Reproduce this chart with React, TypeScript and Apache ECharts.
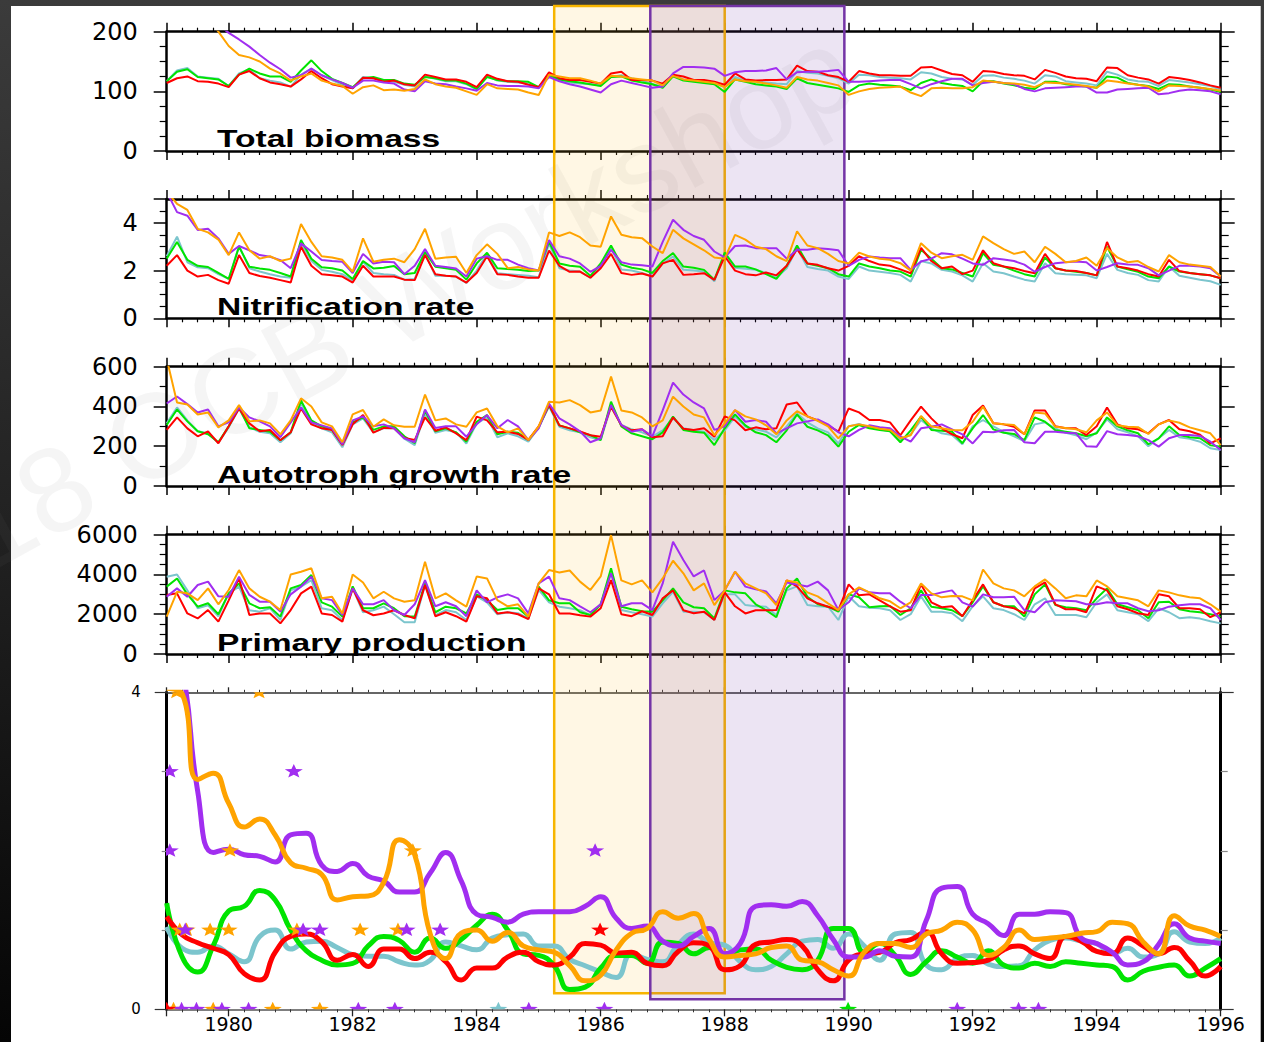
import { useEffect, useRef } from "react";
import * as echarts from "echarts";

// ---------- time bases ----------
const YEAR_START = 1979;
const YEAR_END = 1996;
// bimonthly model output, 1979.0 .. 1996.0
const panelTimes = Array.from({ length: 103 }, (_, k) => YEAR_START + k / 6);
// quarterly smoothed indices, 1979.0 .. 1996.0
const indexTimes = Array.from({ length: 69 }, (_, k) => YEAR_START + k / 4);

// ---------- Total biomass ----------
const biomassRed = [114,122,125,117,116,113,107,128,134,122,115,112,108,120,134,122,112,108,105,123,122,116,118,112,110,128,124,120,
  120,116,107,128,121,117,116,111,107,132,122,119,119,116,113,130,133,119,119,118,113,128,125,119,119,116,111,130,120,118,119,119,120,143,134,133,127,124,116,134,130,127,127,126,
  126,140,141,135,129,127,116,134,133,129,127,126,120,136,131,125,122,121,117,140,139,127,123,120,113,124,122,119,115,110,106];
const biomassGreen = [117,133,137,124,122,120,109,128,138,130,125,125,116,135,152,134,121,114,107,122,124,119,119,113,111,124,122,118,
  118,113,104,124,119,117,117,116,107,127,120,117,115,112,109,124,125,118,115,112,106,125,118,116,114,112,99,120,116,112,110,108,104,122,114,111,108,105,99,110,113,111,110,108,
  102,114,120,114,111,109,100,117,117,113,110,106,104,116,116,112,110,108,106,125,123,114,111,109,104,112,111,108,106,103,99];
const biomassCyan = [117,135,139,125,123,121,109,130,137,122,118,115,108,128,138,127,119,111,105,124,122,117,116,111,108,125,121,117,
  117,112,103,126,118,116,115,113,107,128,118,115,113,112,110,124,127,122,118,112,108,127,120,117,116,114,107,124,118,116,115,113,112,134,131,130,126,122,113,128,127,124,123,122,
  120,132,130,124,121,120,111,126,127,123,121,118,113,127,125,117,115,113,110,133,128,120,117,116,109,119,117,115,112,109,103];
const biomassPurple = [300,280,260,240,225,212,198,187,175,161,148,137,123,127,138,127,120,114,106,118,118,115,113,103,100,117,113,112,
  108,105,101,114,110,109,109,108,105,124,117,112,108,103,98,112,118,114,110,106,108,130,141,141,140,138,126,132,134,134,135,139,120,132,133,133,134,136,116,116,117,118,119,119,
  112,105,112,117,121,121,110,114,116,114,112,104,100,105,106,107,108,108,98,98,103,104,105,106,95,97,101,103,102,100,95];
const biomassOrange = [320,290,265,245,222,200,176,161,157,150,138,130,118,125,130,118,113,109,96,107,110,102,103,101,104,120,112,108,
  106,100,94,112,105,104,103,98,94,128,125,122,122,118,113,126,125,122,120,118,110,126,120,118,116,114,107,120,117,116,113,110,106,124,120,118,114,110,94,100,104,106,107,108,
  98,92,105,106,105,105,107,118,116,114,113,111,107,115,114,113,111,109,106,118,116,113,111,108,100,110,109,108,106,104,101];

// ---------- Nitrification rate ----------
const nitrifRed = [2.2,2.65,2.0,1.75,1.82,1.6,1.45,2.65,1.9,1.77,1.7,1.6,1.5,3.0,2.2,1.85,1.8,1.75,1.5,2.2,1.75,1.75,1.75,1.62,1.6,2.65,1.85,1.78,1.75,1.5,1.9,2.6,1.85,1.82,1.75,1.7,1.7,2.84,2.2,1.95,1.96,
  1.7,2.1,2.7,1.9,1.82,1.88,1.75,2.3,2.45,1.82,1.85,1.89,1.61,2.6,2.0,1.85,1.8,1.92,1.8,2.2,2.9,2.3,2.24,2.1,2.0,2.2,2.6,2.4,2.25,2.2,2.05,
  1.89,2.95,2.4,2.1,2.17,1.85,2.0,2.85,2.31,2.17,2.1,1.98,1.89,2.7,2.1,2.0,1.98,1.9,1.8,3.2,2.17,2.1,2.0,1.85,1.75,2.45,1.98,1.9,1.85,1.8,1.68];
const nitrifGreen = [2.5,3.2,2.45,2.2,2.15,1.9,1.65,3.0,2.16,2.09,2.03,1.9,1.75,3.28,2.5,2.14,2.1,2.0,1.65,2.4,2.09,2.12,2.19,1.85,1.9,2.78,2.16,2.1,2.03,1.62,2.3,2.75,2.1,2.07,2.03,1.98,2.0,3.21,2.3,2.2,2.16,
  1.78,2.3,3.05,2.25,2.12,2.05,1.9,2.4,2.73,2.17,2.12,2.03,1.62,2.75,2.17,2.17,2.05,1.85,1.65,2.2,3.05,2.3,2.2,2.1,1.85,1.75,2.3,2.17,2.1,2.0,1.96,
  1.75,2.87,2.5,2.1,2.05,1.9,1.75,2.73,2.24,2.17,2.0,1.85,1.75,2.55,2.1,2.0,1.95,1.9,1.8,3.0,2.17,2.05,1.95,1.75,1.68,2.17,1.96,1.9,1.85,1.8,1.68];
const nitrifCyan = [2.6,3.42,2.35,2.14,2.1,1.85,1.65,3.03,2.1,1.96,1.85,1.75,1.7,3.14,2.4,2.03,1.95,1.85,1.58,2.37,1.9,1.85,1.82,1.62,1.65,2.72,1.78,1.78,1.75,1.48,2.0,2.7,1.89,1.85,1.82,1.78,1.72,3.14,2.1,2.0,1.96,
  1.7,2.2,2.95,2.05,2.0,1.9,1.75,2.3,2.59,2.03,2.0,1.96,1.55,2.7,2.12,2.08,2.03,1.9,1.7,2.1,2.94,2.15,2.07,2.0,1.75,1.65,2.17,2.0,1.95,1.9,1.82,
  1.54,2.4,2.3,2.03,1.96,1.8,1.54,2.31,1.96,1.89,1.75,1.62,1.54,2.31,1.89,1.85,1.83,1.8,1.68,2.7,2.03,1.9,1.82,1.6,1.54,2.17,1.78,1.7,1.62,1.55,1.4];
const nitrifPurple = [5.3,4.45,4.3,3.7,3.75,3.35,2.7,3.03,2.85,2.65,2.58,2.44,2.1,3.14,2.8,2.44,2.4,2.37,1.9,2.7,2.3,2.37,2.35,1.85,2.2,2.9,2.2,2.15,2.09,1.75,2.5,2.6,2.45,2.45,2.25,2.1,2.0,3.28,2.6,2.5,2.3,
  1.95,2.2,2.87,2.35,2.25,2.22,2.17,3.2,4.13,3.71,3.45,3.29,2.8,2.55,3.03,3.05,2.94,2.94,2.94,2.5,2.87,2.87,2.94,2.9,2.85,2.2,2.45,2.59,2.55,2.52,2.52,
  2.03,2.38,2.5,2.73,2.68,2.5,2.3,2.24,2.52,2.46,2.4,2.25,1.95,2.15,2.31,2.35,2.38,2.35,2.0,2.15,2.31,2.25,2.24,2.1,1.8,2.0,2.2,2.2,2.17,2.1,1.75];
const nitrifOrange = [5.3,4.8,4.54,3.75,3.6,3.3,2.65,3.6,2.85,2.5,2.6,2.4,2.5,3.95,3.2,2.6,2.55,2.45,1.95,3.35,2.37,2.45,2.5,2.35,2.9,3.75,2.5,2.55,2.58,1.9,2.65,3.1,2.7,2.1,2.15,2.05,2.0,3.6,3.45,3.6,3.4,
  3.05,3.0,4.27,3.5,3.4,3.36,3.01,2.73,3.71,3.35,3.1,2.85,2.55,2.5,3.5,3.3,3.0,2.9,2.6,2.4,3.65,3.05,2.94,2.7,2.4,2.3,2.75,2.59,2.5,2.45,2.31,
  2.0,3.15,2.75,2.52,2.6,2.66,2.45,3.43,3.15,2.9,2.7,2.8,2.35,3.0,2.7,2.35,2.4,2.55,2.2,2.95,2.55,2.35,2.4,2.15,1.96,2.65,2.35,2.25,2.2,2.15,1.75];

// ---------- Autotroph growth rate ----------
const growthRed = [282,345,290,250,275,215,300,390,315,275,282,230,270,390,310,290,282,206,310,357,268,292,290,242,231,345,278,295,
  265,231,349,330,270,273,262,232,300,407,305,290,275,255,248,399,305,280,285,245,250,345,288,282,290,248,350,330,280,295,285,290,410,420,350,330,305,273,
  390,370,332,332,320,255,330,399,340,290,260,240,357,405,315,310,298,260,380,380,300,290,290,256,300,395,310,290,285,265,310,332,285,275,258,214,240];
const growthGreen = [307,385,325,275,260,220,300,395,290,282,273,230,270,430,330,300,282,210,320,345,282,300,300,250,215,380,275,290,
  270,223,323,357,260,273,268,231,295,407,305,290,270,256,231,424,300,265,250,235,270,349,282,273,268,206,290,360,305,270,256,220,280,360,298,280,255,198,
  273,307,290,282,275,220,280,349,282,278,273,215,290,357,285,268,262,231,345,323,280,273,265,250,265,345,300,280,265,210,240,300,256,245,240,205,198];
const growthCyan = [315,395,330,275,265,218,295,388,295,273,265,220,265,415,320,290,270,195,310,340,270,290,290,238,205,365,268,282,
  270,214,315,345,245,265,250,223,295,399,298,280,270,245,231,399,307,285,270,248,280,340,290,280,273,231,280,349,298,285,273,245,300,365,320,290,270,214,
  300,312,295,285,275,230,260,332,290,265,256,210,300,332,300,272,250,225,310,320,290,268,255,235,270,335,285,270,250,200,240,282,245,237,223,190,181];
const growthPurple = [415,450,412,370,385,300,320,395,345,325,300,245,320,395,320,305,290,210,330,350,300,310,290,240,220,385,292,300,
  300,248,310,357,290,332,300,231,290,415,340,310,275,220,240,407,307,273,285,250,380,520,460,420,390,282,300,382,323,332,323,265,290,315,325,335,310,270,
  250,282,305,296,290,250,223,290,298,310,285,260,214,273,270,280,282,220,215,273,273,268,265,200,198,276,260,256,250,231,198,240,256,256,252,223,181];
const growthOrange = [640,420,410,360,370,295,330,407,325,330,315,260,330,441,400,320,300,220,360,382,298,335,305,298,298,460,330,340,
  310,298,370,390,300,270,290,231,300,424,420,432,407,370,380,550,380,370,345,300,330,449,400,360,345,255,315,382,350,335,305,260,330,376,350,328,300,240,
  300,310,300,288,282,240,255,352,300,290,282,280,323,399,315,310,307,260,370,365,298,292,285,270,330,370,305,298,296,262,310,330,318,295,280,265,206];

// ---------- Primary production ----------
const prodRed = [2970,3050,2040,1790,2210,1630,2700,3800,1960,2040,2040,1540,2210,3050,3390,2040,1960,1630,3300,2200,1950,2040,2200,1960,1790,3470,1900,2100,
  1900,1630,2900,2800,2040,2100,2000,1750,3300,3000,2040,2040,1950,1880,2300,3720,2000,1900,2150,1960,2800,3200,2200,2050,2130,1710,3100,2400,2040,2200,2200,2210,3700,3400,2800,2550,2380,2210,
  3500,2950,3000,2700,2400,2130,2200,3500,2600,2350,2400,1900,2700,3500,2600,2400,2300,2040,3300,3600,2500,2250,2250,2100,3400,3200,2400,2250,2050,1960,3000,2900,2300,2300,2250,1850,2100];
const prodGreen = [3390,3800,3000,2380,2550,2000,3050,3550,2550,2300,2350,1880,3300,3470,3970,2600,2380,1880,3400,2300,2300,2550,2300,1900,1880,3550,2100,2380,
  2300,2040,3000,2700,2210,2300,2300,1880,3390,2700,2550,2550,2100,1960,2500,4310,2380,2250,2150,2130,2700,3300,2600,2350,2300,1790,3200,3100,3050,2500,2210,1850,3300,3800,2880,2500,2380,2130,
  3000,2850,2350,2400,2420,1960,2300,3200,2380,2300,2200,1900,2600,3400,2600,2400,2400,1880,3000,3500,2460,2350,2300,2200,2800,3300,2500,2350,2200,1800,2600,2630,2250,2150,2100,2000,1880];
const prodCyan = [3890,4000,3200,2300,2450,1900,3050,3390,2200,2130,2300,1710,3200,3390,3720,2300,2200,1710,3300,2100,2200,2380,2000,1600,1600,3470,1960,2210,
  2100,1710,2900,2600,2000,2100,2050,1790,3220,2600,2380,2300,2200,1950,2500,4060,2210,2100,2000,1880,2550,3130,2130,2130,2100,1710,3000,3000,2460,2400,2380,1950,3200,3400,2460,2400,2380,1710,
  2900,2400,2330,2300,2200,1710,2000,2900,2130,2130,2050,1650,2400,2900,2300,2210,2000,1710,2500,2800,1960,1960,1960,1850,2600,3000,2200,2100,2000,1650,2300,2100,1800,1850,1780,1650,1540];
const prodPurple = [2880,3300,2880,3470,3640,2900,2880,3890,2970,2630,2630,2130,3000,3390,3890,2800,2710,1960,3300,2500,2500,2710,2200,1960,2500,3720,2400,2600,
  2400,1900,3200,2600,2850,3000,2800,2040,3550,3890,2800,2710,2400,2100,2500,4060,2400,2550,2550,2210,3550,5650,4730,3900,4200,2710,3200,4140,3390,3250,3150,2550,3600,3500,3400,3640,3200,2210,
  2600,3300,3100,3050,3050,2630,2300,2970,2970,3100,3200,2600,2380,3000,2850,2850,2880,2210,2100,2600,2700,2680,2650,2500,2500,2600,2550,2550,2300,2150,2200,2380,2450,2500,2500,2300,1710];
const prodOrange = [1880,3130,3050,2710,3300,2500,3220,4220,3300,2880,2630,2210,4000,4140,4310,2800,2880,2040,4000,3600,2800,3130,2800,2630,2700,4640,2800,3050,
  2700,2380,3900,3800,2710,2400,2500,1880,3550,4220,4100,4200,3640,3220,3900,5980,3700,3500,3700,3100,3800,4690,4060,3200,3550,2460,3200,4140,3550,3300,3050,2460,3700,3600,3100,2900,2550,2210,
  3000,3350,3100,2800,2650,2300,2600,3550,3050,2850,2920,2900,2700,4250,3550,3300,3200,2900,3400,3750,3300,2800,2950,2900,3700,3400,2900,2800,2700,2400,3200,3100,2950,2850,2800,2500,2130];

// ---------- smoothed indices (bottom panel) ----------
const indexRed = [1.17,0.94,0.84,0.77,0.69,0.45,0.37,0.72,0.92,0.95,0.85,0.62,0.69,0.54,0.76,0.76,0.64,0.72,0.6,0.37,0.52,0.52,0.66,0.72,0.6,0.56,0.66,0.83,0.81,0.71,0.72,0.58,0.55,0.73,0.84,0.8,0.5,0.55,0.82,0.85,0.88,0.8,0.5,0.36,0.62,0.7,0.72,0.84,0.88,0.98,0.7,0.58,0.59,0.62,0.75,0.8,0.7,0.64,0.92,0.86,0.73,0.7,0.9,0.8,0.7,0.78,0.61,0.42,0.54];
const indexGreen = [1.34,0.66,0.47,0.8,1.24,1.3,1.5,1.38,1.0,0.74,0.62,0.56,0.58,0.8,0.92,0.87,0.72,0.9,0.77,0.88,1.06,1.2,1.0,0.7,0.68,0.55,0.25,0.28,0.52,0.68,0.68,0.58,0.85,0.83,0.7,0.78,0.67,0.75,0.76,0.62,0.53,0.5,0.62,1.02,1.02,0.72,0.83,0.68,0.44,0.6,0.74,0.66,0.58,0.74,0.56,0.52,0.58,0.54,0.6,0.58,0.56,0.54,0.37,0.48,0.53,0.56,0.42,0.52,0.64];
const indexCyan = [1.04,0.77,0.72,0.8,0.7,0.6,0.92,1.0,0.76,0.85,0.86,0.78,0.69,0.67,0.67,0.6,0.56,0.62,0.85,0.8,0.75,0.9,0.94,0.95,0.8,0.8,0.63,0.55,0.47,0.4,0.7,0.63,0.6,0.82,0.95,0.84,0.81,0.6,0.5,0.54,0.7,0.86,0.88,0.77,0.95,0.8,0.62,0.95,0.97,0.56,0.5,0.64,0.68,0.57,0.54,0.55,0.75,0.87,0.9,0.86,0.83,0.7,0.77,0.66,0.7,0.98,0.85,0.83,0.9];
const indexPurple = [4.8,4.3,2.75,1.98,2.02,1.95,1.93,1.86,2.2,2.22,1.82,1.74,1.84,1.68,1.62,1.48,1.48,1.72,1.98,1.62,1.2,1.16,1.1,1.2,1.23,1.23,1.23,1.3,1.42,1.15,1.02,1.05,0.86,0.8,0.92,1.02,0.7,0.83,1.3,1.32,1.3,1.36,1.18,0.88,0.66,0.66,0.74,0.67,0.66,1.12,1.53,1.55,1.2,1.08,0.93,1.2,1.2,1.23,1.22,0.9,0.83,0.72,0.56,0.6,0.82,1.08,0.9,0.86,0.83];
const indexOrange = [4.05,3.98,2.9,2.98,2.6,2.3,2.4,2.2,1.85,1.78,1.7,1.38,1.42,1.43,1.6,2.14,1.95,0.95,0.64,0.96,1.0,0.86,0.97,0.8,0.75,0.72,0.55,0.36,0.43,0.75,0.96,1.02,1.23,1.15,1.21,0.88,0.66,0.68,0.7,0.78,0.8,0.62,0.6,0.5,0.42,0.72,0.83,0.83,0.78,0.95,1.0,1.1,1.0,0.68,0.78,1.0,0.88,0.9,0.92,0.96,0.98,1.1,1.08,0.85,0.7,1.18,1.05,1.0,0.92];

// event markers [year, level]
const starsOrange = [[1979.16,4],[1980.49,4],[1980.02,2],[1982.97,2],[1979.21,1],[1979.32,1],[1979.7,1],[1980.0,1],[1981.1,1],[1982.12,1],[1982.73,1],[1979.11,0],[1979.75,0],[1980.71,0],[1981.47,0]];
const starsPurple = [[1979.05,3],[1981.05,3],[1979.05,2],[1985.91,2],[1979.3,1],[1981.2,1],[1981.47,1],[1982.87,1],[1983.41,1],[1979.24,0],[1979.48,0],[1979.89,0],[1980.32,0],[1982.09,0],[1982.68,0],[1984.84,0],[1986.06,0],[1991.75,0],[1992.74,0],[1993.06,0]];
const starsRed = [[1985.99,1],[1979.0,0]];
const starsCyan = [[1984.35,0]];
const starsGreen = [[1989.99,0]];

// highlighted periods [start, end]
const periodA = [1985.25, 1988.0];
const periodB = [1986.8, 1989.93];

// ---------- panel setup ----------
const panelTitles = ["Total biomass", "Nitrification rate", "Autotroph growth rate", "Primary production"];
const panelMax = [200, 5, 600, 6000];
const panelStep = [100, 2, 200, 2000];
const panelMinor = [4, 4, 2, 4];

const COLORS = {
  red: "#ff0000",
  green: "#00e400",
  cyan: "#7cc5cd",
  purple: "#a12ef0",
  orange: "#ffa300",
};

const panelSeries = [
  { cyan: biomassCyan, green: biomassGreen, red: biomassRed, purple: biomassPurple, orange: biomassOrange },
  { cyan: nitrifCyan, green: nitrifGreen, red: nitrifRed, purple: nitrifPurple, orange: nitrifOrange },
  { cyan: growthCyan, green: growthGreen, red: growthRed, purple: growthPurple, orange: growthOrange },
  { cyan: prodCyan, green: prodGreen, red: prodRed, purple: prodPurple, orange: prodOrange },
];
const indexSeries = { cyan: indexCyan, green: indexGreen, red: indexRed, purple: indexPurple, orange: indexOrange };
const drawOrder = ["cyan", "green", "red", "purple", "orange"] as const;

const LEFT = 166.7;
const RIGHT = 43.3;
const PANEL_TOPS = [31.7, 199, 366.7, 534.7];
const PANEL_H = 119.3;
const INDEX_TOP = 692.3;
const INDEX_H = 317;

const pairs = (times: number[], vals: number[]) =>
  vals.slice(0, times.length).map((v, i) => [times[i], v]);

const plainNumber = (v: number) => String(Math.round(v));

function buildOption() {
  const grids: any[] = [];
  const xAxes: any[] = [];
  const yAxes: any[] = [];
  const series: any[] = [];

  // four stacked model panels
  for (let p = 0; p < 4; p++) {
    grids.push({ left: LEFT, right: RIGHT, top: PANEL_TOPS[p], height: PANEL_H, containLabel: false });
    const xBase = {
      type: "value",
      gridIndex: p,
      min: YEAR_START,
      max: YEAR_END,
      minInterval: 2,
      maxInterval: 2,
      splitLine: { show: false },
      axisLine: { show: true, onZero: false, lineStyle: { color: "#000", width: 2.5 } },
      axisTick: { show: true, inside: false, length: 9, lineStyle: { color: "#000", width: 1.5 } },
      minorTick: { show: true, splitNumber: 8, length: 4, lineStyle: { color: "#000", width: 1.2 } },
      axisLabel: { show: false },
    };
    xAxes.push({ ...xBase, position: "bottom" });
    xAxes.push({ ...xBase, position: "top" });
    const yBase = {
      type: "value",
      gridIndex: p,
      min: 0,
      max: panelMax[p],
      interval: panelStep[p],
      splitLine: { show: false },
      axisLine: { show: true, onZero: false, lineStyle: { color: "#000", width: 2.5 } },
      minorTick: { show: true, splitNumber: panelMinor[p], lineStyle: { color: "#000", width: 1.2 } },
    };
    yAxes.push({
      ...yBase,
      position: "left",
      axisTick: { show: true, inside: false, length: 13, lineStyle: { color: "#000", width: 1.5 } },
      minorTick: { ...yBase.minorTick, length: 7 },
      axisLabel: {
        show: true,
        margin: 29,
        color: "#000",
        fontFamily: "DejaVu Sans",
        fontSize: 24,
        formatter: plainNumber,
        showMaxLabel: p === 1 ? false : true,
      },
    });
    yAxes.push({
      ...yBase,
      position: "right",
      axisTick: { show: true, inside: false, length: 14, lineStyle: { color: "#000", width: 1.5 } },
      minorTick: { ...yBase.minorTick, length: 8 },
      axisLabel: { show: false },
    });
    for (const key of drawOrder) {
      series.push({
        type: "line",
        xAxisIndex: 2 * p,
        yAxisIndex: 2 * p,
        data: pairs(panelTimes, (panelSeries[p] as any)[key]),
        showSymbol: false,
        symbol: "none",
        clip: true,
        silent: true,
        z: 3,
        lineStyle: { color: (COLORS as any)[key], width: 2 },
        itemStyle: { color: (COLORS as any)[key] },
      });
    }
  }

  // bottom panel with smoothed indices
  grids.push({ left: LEFT, right: RIGHT, top: INDEX_TOP, height: INDEX_H, containLabel: false });
  const xIdx = {
    type: "value",
    gridIndex: 4,
    min: YEAR_START,
    max: YEAR_END,
    minInterval: 2,
    maxInterval: 2,
    splitLine: { show: false },
  };
  xAxes.push({
    ...xIdx,
    position: "bottom",
    axisLine: { show: true, onZero: false, lineStyle: { color: "#555", width: 1.5 } },
    axisTick: { show: true, inside: false, length: 7, lineStyle: { color: "#222", width: 1.3 } },
    minorTick: { show: true, splitNumber: 8, length: 3, lineStyle: { color: "#333", width: 1 } },
    axisLabel: {
      show: true,
      margin: 5,
      color: "#000",
      fontFamily: "DejaVu Sans",
      fontSize: 19,
      formatter: plainNumber,
      showMinLabel: false,
    },
  });
  xAxes.push({
    ...xIdx,
    position: "top",
    axisLine: { show: true, onZero: false, lineStyle: { color: "#333", width: 1.5 } },
    axisTick: { show: true, inside: false, length: 5, lineStyle: { color: "#222", width: 1.3 } },
    minorTick: { show: true, splitNumber: 8, length: 2.5, lineStyle: { color: "#333", width: 1 } },
    axisLabel: { show: false },
  });
  const yIdx = {
    type: "value",
    gridIndex: 4,
    min: 0,
    max: 4,
    interval: 4,
    splitLine: { show: false },
    axisLine: { show: true, onZero: false, lineStyle: { color: "#000", width: 3 } },
  };
  yAxes.push({
    ...yIdx,
    position: "left",
    axisTick: { show: true, inside: false, length: 12, lineStyle: { color: "#333", width: 1.2 } },
    minorTick: { show: true, splitNumber: 4, length: 5, lineStyle: { color: "#888", width: 1.2 } },
    axisLabel: { show: true, margin: 26, color: "#000", fontFamily: "DejaVu Sans", fontSize: 15, formatter: plainNumber },
  });
  yAxes.push({
    ...yIdx,
    position: "right",
    axisTick: { show: true, inside: false, length: 13, lineStyle: { color: "#333", width: 1.2 } },
    minorTick: { show: true, splitNumber: 4, length: 7, lineStyle: { color: "#888", width: 1.2 } },
    axisLabel: { show: false },
  });
  for (const key of drawOrder) {
    series.push({
      type: "line",
      xAxisIndex: 8,
      yAxisIndex: 8,
      data: pairs(indexTimes, (indexSeries as any)[key]),
      smooth: 0.5,
      showSymbol: false,
      symbol: "none",
      clip: true,
      silent: true,
      z: 3,
      lineStyle: { color: (COLORS as any)[key], width: 5 },
      itemStyle: { color: (COLORS as any)[key] },
    });
  }

  // event stars, clipped to the bottom panel
  const starGroups: [number[][], string][] = [
    [starsOrange, COLORS.orange],
    [starsPurple, COLORS.purple],
    [starsRed, COLORS.red],
    [starsCyan, COLORS.cyan],
    [starsGreen, COLORS.green],
  ];
  for (const [pts, color] of starGroups) {
    series.push({
      type: "custom",
      xAxisIndex: 8,
      yAxisIndex: 8,
      clip: true,
      silent: true,
      z: 4,
      data: pts,
      renderItem: (_params: any, api: any) => {
        const c = api.coord([api.value(0), api.value(1)]);
        const points: number[][] = [];
        for (let i = 0; i < 10; i++) {
          const r = i % 2 === 0 ? 1 : 0.42;
          const a = -Math.PI / 2 + (i * Math.PI) / 5;
          points.push([c[0] + Math.cos(a) * r * 9.5, c[1] + Math.sin(a) * r * 7.5]);
        }
        return { type: "polygon", shape: { points }, style: { fill: color } };
      },
    });
  }

  // overlay spanning all panels for the highlighted periods
  grids.push({ left: LEFT, right: RIGHT, top: 6, height: 993.3, containLabel: false });
  xAxes.push({ type: "value", gridIndex: 5, min: YEAR_START, max: YEAR_END, show: false });
  yAxes.push({ type: "value", gridIndex: 5, min: 0, max: 100, show: false });
  series.push({
    type: "line",
    xAxisIndex: 10,
    yAxisIndex: 10,
    data: [[YEAR_START, -50]],
    showSymbol: false,
    symbol: "none",
    silent: true,
    z: 1,
    lineStyle: { opacity: 0 },
    markArea: {
      silent: true,
      label: { show: false },
      data: [
        [
          { xAxis: periodA[0], yAxis: 0.6, itemStyle: { color: "rgba(255,190,50,0.13)", borderColor: "#f7b500", borderWidth: 2.5 } },
          { xAxis: periodA[1], yAxis: 100 },
        ],
        [
          { xAxis: periodB[0], yAxis: 0, itemStyle: { color: "rgba(112,48,160,0.13)", borderColor: "#7434a6", borderWidth: 2.5 } },
          { xAxis: periodB[1], yAxis: 100 },
        ],
      ],
    },
  });

  const titleCenters = [139.4, 306.7, 474.7, 642.8];
  const graphic: any[] = [
    { type: "rect", silent: true, z: -10, shape: { x: 11, y: 6, width: 1249.7, height: 1036 }, style: { fill: "#ffffff" } },
    {
      type: "text",
      silent: true,
      z: -9,
      x: -150,
      y: 601,
      rotation: 0.5,
      style: {
        text: "2018 OCB Workshop",
        fontFamily: "Liberation Sans",
        fontSize: 120,
        fill: "rgba(120,120,120,0.075)",
        align: "left",
        verticalAlign: "middle",
      },
    },
    ...panelTitles.map((t, i) => ({
      type: "text",
      silent: true,
      z: 10,
      x: 217,
      y: titleCenters[i],
      scaleX: 1.46,
      style: {
        text: t,
        fontFamily: "Liberation Sans",
        fontWeight: "bold",
        fontSize: 23,
        fill: "#000",
        align: "left",
        verticalAlign: "middle",
      },
    })),
  ];

  return {
    animation: false,
    backgroundColor: "transparent",
    grid: grids,
    xAxis: xAxes,
    yAxis: yAxes,
    series,
    graphic,
  };
}

export default function App() {
  const ref = useRef<HTMLDivElement>(null);
  useEffect(() => {
    document.body.style.margin = "0";
    document.body.style.overflow = "hidden";
    const chart = echarts.init(ref.current!, undefined, { renderer: "svg" });
    chart.setOption(buildOption() as any);
    return () => chart.dispose();
  }, []);
  return (
    <div
      ref={ref}
      style={{
        position: "absolute",
        left: 0,
        top: 0,
        width: 1264,
        height: 1042,
        background: "linear-gradient(180deg, #3b3b3b 0%, #222 50%, #050505 100%)",
      }}
    />
  );
}
